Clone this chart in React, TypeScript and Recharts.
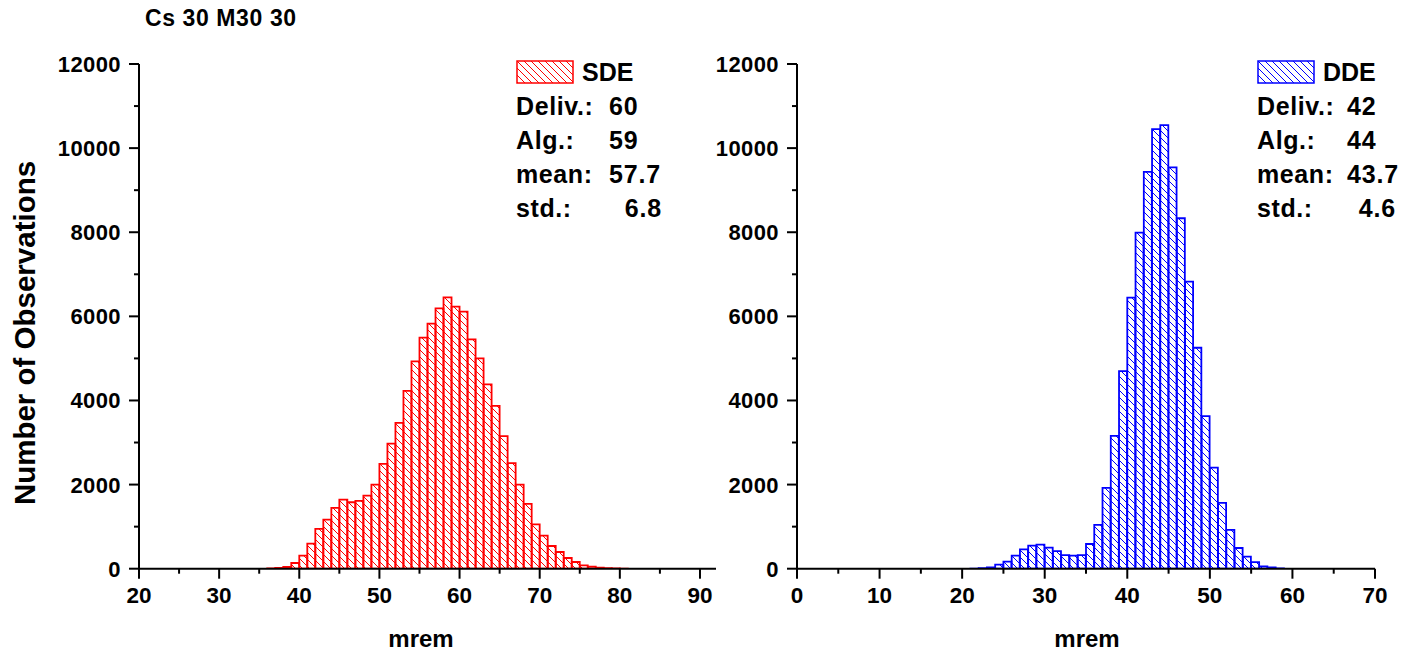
import React from 'react';
import { BarChart, Bar, XAxis, YAxis, Legend } from 'recharts';

const FONT = '"Liberation Sans", Arial, Helvetica, sans-serif';

// SDE histogram: bin start (mrem), counts per 1 mrem bin
const sdeBins = [36, 37, 38, 39, 40, 41, 42, 43, 44, 45, 46, 47, 48, 49, 50, 51, 52, 53, 54, 55, 56, 57, 58, 59, 60, 61, 62, 63, 64, 65, 66, 67, 68, 69, 70, 71, 72, 73, 74, 75, 76, 77, 78, 79, 80];
const sdeCounts = [8, 20, 42, 135, 310, 595, 945, 1167, 1444, 1643, 1580, 1611, 1738, 2000, 2492, 2976, 3468, 4230, 4929, 5492, 5825, 6190, 6450, 6230, 6111, 5452, 5000, 4381, 3873, 3151, 2508, 2000, 1540, 1056, 786, 540, 397, 254, 159, 80, 48, 24, 15, 8, 4];

// DDE histogram
const ddeBins = [21, 22, 23, 24, 25, 26, 27, 28, 29, 30, 31, 32, 33, 34, 35, 36, 37, 38, 39, 40, 41, 42, 43, 44, 45, 46, 47, 48, 49, 50, 51, 52, 53, 54, 55, 56, 57, 58];
const ddeCounts = [4, 12, 30, 95, 167, 310, 460, 548, 571, 500, 420, 325, 310, 325, 587, 1040, 1920, 3160, 4698, 6444, 7992, 9437, 10452, 10548, 9540, 8333, 6825, 5254, 3627, 2405, 1563, 921, 492, 285, 155, 55, 28, 10];

const sdeStats = [['Deliv.:', '60'], ['Alg.:', '59'], ['mean:', '57.7'], ['std.:', '6.8']];
const ddeStats = [['Deliv.:', '42'], ['Alg.:', '44'], ['mean:', '43.7'], ['std.:', '4.6']];

const yTicks = [0, 1000, 2000, 3000, 4000, 5000, 6000, 7000, 8000, 9000, 10000, 11000, 12000];
const sdeXTicks = [20, 25, 30, 35, 40, 45, 50, 55, 60, 65, 70, 75, 80, 85, 90];
const ddeXTicks = [0, 5, 10, 15, 20, 25, 30, 35, 40, 45, 50, 55, 60, 65, 70];

const toRows = (bins: number[], counts: number[]) =>
  bins.map((b, i) => ({ x: b + 0.5, count: counts[i] }));

const sdeData = toRows(sdeBins, sdeCounts);
const ddeData = toRows(ddeBins, ddeCounts);

const Hatch = ({ id, color }: { id: string; color: string }) => (
  <pattern id={id} patternUnits="userSpaceOnUse" width={7} height={7}>
    <path d="M0,0 L7,7 M-1,6 L1,8 M6,-1 L8,1" stroke={color} strokeWidth={1} />
  </pattern>
);

const YTick = (props: any) => {
  const { x, y, payload } = props;
  const major = payload.value % 2000 === 0;
  return (
    <g>
      <line x1={x + (major ? 8 : 13)} x2={x + 18} y1={y} y2={y} stroke="#000" strokeWidth={2} />
      {major && (
        <text x={x} y={y} dy={8} textAnchor="end" fontFamily={FONT} fontWeight="bold" fontSize={22} letterSpacing={0.4} fill="#000">
          {payload.value}
        </text>
      )}
    </g>
  );
};

const XTick = (props: any) => {
  const { x, y, payload } = props;
  const major = payload.value % 10 === 0;
  return (
    <g>
      <line x1={x} x2={x} y1={y - 18} y2={y - 18 + (major ? 10 : 5)} stroke="#000" strokeWidth={2} />
      {major && (
        <text x={x} y={y} dy={16} textAnchor="middle" fontFamily={FONT} fontWeight="bold" fontSize={22.5} fill="#000">
          {payload.value}
        </text>
      )}
    </g>
  );
};

const StatsLegend = (props: any) => {
  const { payload, color, stats, labelWidth, valueWidth } = props;
  const name = payload && payload[0] ? payload[0].value : '';
  const pid = 'lg-' + name;
  return (
    <div style={{ fontFamily: FONT, fontWeight: 'bold', fontSize: 25, lineHeight: '34px', color: '#000' }}>
      <div style={{ display: 'flex', alignItems: 'center', height: 34 }}>
        <svg width={58} height={24}>
          <defs>
            <Hatch id={pid} color={color} />
          </defs>
          <rect x={1} y={1} width={56} height={22} fill={`url(#${pid})`} stroke={color} strokeWidth={1.5} />
        </svg>
        <span style={{ marginLeft: 8 }}>{name}</span>
      </div>
      {stats.map(([k, v]: string[], i: number) => (
        <div key={k} style={{ display: 'flex', height: 34 }}>
          <span style={{ width: labelWidth, letterSpacing: 0.6 }}>{k}</span>
          <span style={{ width: valueWidth, textAlign: i === 3 ? 'right' : 'left', letterSpacing: 0.8 }}>{v}</span>
        </div>
      ))}
    </div>
  );
};

const axisLine = { stroke: '#000', strokeWidth: 2 };
const titleStyle = { fontFamily: FONT, fontWeight: 'bold' as const, fill: '#000' };

export default function App() {
  return (
    <div style={{ position: 'absolute', left: 0, top: 0, width: 1405, height: 656, background: '#fff', overflow: 'hidden' }}>
      <div style={{ position: 'absolute', left: 0, top: 0 }}>
        <BarChart width={740} height={656} data={sdeData} margin={{ top: 64, right: 24, bottom: 47.3, left: 0 }} barCategoryGap={0} barGap={0}>
          <defs>
            <Hatch id="hatchRed" color="#ff0000" />
          </defs>
          <XAxis dataKey="x" type="number" domain={[20, 92]} ticks={sdeXTicks} interval={0} allowDataOverflow height={40}
            axisLine={axisLine} tickLine={false} tickSize={10} tickMargin={8} tick={<XTick />} />
          <YAxis type="number" domain={[0, 12000]} ticks={yTicks} interval={0} allowDataOverflow width={139}
            axisLine={axisLine} tickLine={false} tickSize={10} tickMargin={8} tick={<YTick />} />
          <Bar dataKey="count" name="SDE" fill="url(#hatchRed)" stroke="#ff0000" strokeWidth={1.8} isAnimationActive={false} />
          <Legend layout="horizontal" verticalAlign="middle" align="center"
            wrapperStyle={{ left: 516, top: 55, width: 170 }}
            content={<StatsLegend color="#ff0000" stats={sdeStats} labelWidth={93} valueWidth={53} />} />
          <text x={145} y={26} fontSize={23} letterSpacing={0.6} {...titleStyle}>Cs 30 M30 30</text>
          <text x={-333} y={35} transform="rotate(-90)" textAnchor="middle" fontSize={29.5} {...titleStyle}>Number of Observations</text>
          <text x={421} y={647} textAnchor="middle" fontSize={24} {...titleStyle}>mrem</text>
        </BarChart>
      </div>
      <div style={{ position: 'absolute', left: 680, top: 0 }}>
        <BarChart width={725} height={656} data={ddeData} margin={{ top: 64, right: 30, bottom: 47.3, left: 0 }} barCategoryGap={0} barGap={0}>
          <defs>
            <Hatch id="hatchBlue" color="#0000ff" />
          </defs>
          <XAxis dataKey="x" type="number" domain={[0, 70]} ticks={ddeXTicks} interval={0} allowDataOverflow height={40}
            axisLine={axisLine} tickLine={false} tickSize={10} tickMargin={8} tick={<XTick />} />
          <YAxis type="number" domain={[0, 12000]} ticks={yTicks} interval={0} allowDataOverflow width={117}
            axisLine={axisLine} tickLine={false} tickSize={10} tickMargin={8} tick={<YTick />} />
          <Bar dataKey="count" name="DDE" fill="url(#hatchBlue)" stroke="#0000ff" strokeWidth={1.8} isAnimationActive={false} />
          <Legend layout="horizontal" verticalAlign="middle" align="center"
            wrapperStyle={{ left: 577, top: 55, width: 160 }}
            content={<StatsLegend color="#0000ff" stats={ddeStats} labelWidth={90} valueWidth={49} />} />
          <text x={407} y={647} textAnchor="middle" fontSize={24} {...titleStyle}>mrem</text>
        </BarChart>
      </div>
    </div>
  );
}
